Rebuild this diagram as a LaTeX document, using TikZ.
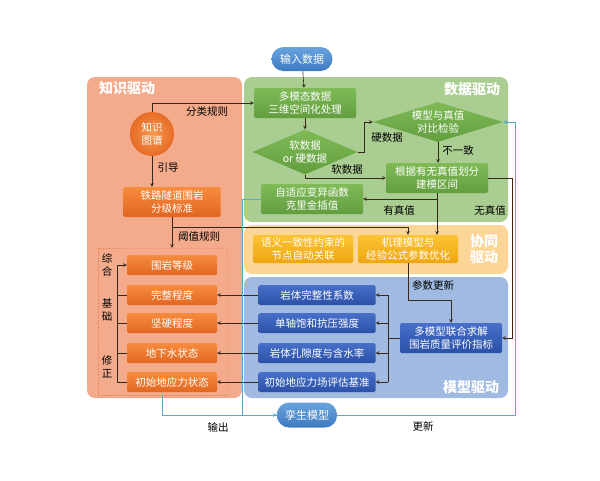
\documentclass[tikz,border=0pt]{standalone}
\usepackage{fontspec}
\setmainfont{Noto Sans CJK SC}
\usetikzlibrary{shapes.geometric,arrows}
\definecolor{zsbg}{RGB}{243,171,140}
\definecolor{sjbg}{RGB}{170,205,145}
\definecolor{xtbg}{RGB}{251,214,150}
\definecolor{mxbg}{RGB}{160,186,226}
\definecolor{lnc}{RGB}{55,40,30}
\definecolor{tealc}{RGB}{90,170,195}
\newcommand{\fs}{\fontsize{10.5}{13}\selectfont}
\tikzset{
  box/.style={rounded corners=1.5pt,text=white,align=center,inner sep=1pt,font=\fs},
  gbox/.style={box,top color={rgb,255:red,128;green,187;blue,88},bottom color={rgb,255:red,98;green,158;blue,62},minimum width=102pt,minimum height=30pt},
  gdia/.style={diamond,text=white,align=center,inner sep=0pt,font=\fs,top color={rgb,255:red,128;green,187;blue,88},bottom color={rgb,255:red,98;green,158;blue,62}},
  obox/.style={box,top color={rgb,255:red,246;green,140;blue,62},bottom color={rgb,255:red,226;green,102;blue,32},minimum width=90pt,minimum height=20pt},
  ybox/.style={box,top color={rgb,255:red,251;green,196;blue,52},bottom color={rgb,255:red,237;green,166;blue,18},minimum width=100pt,minimum height=28pt},
  bbox/.style={box,top color={rgb,255:red,72;green,112;blue,200},bottom color={rgb,255:red,42;green,80;blue,168},minimum width=117pt,minimum height=20pt},
  pill/.style={rounded corners=12pt,text=white,font=\fontsize{11}{13}\selectfont,top color={rgb,255:red,105;green,163;blue,222},bottom color={rgb,255:red,62;green,122;blue,192},minimum width=61pt,minimum height=24pt},
  title/.style={text=white,font=\fontsize{14}{16}\selectfont\bfseries,align=center},
  lab/.style={text=black,font=\fs,align=center,inner sep=0pt},
  line/.style={draw=lnc,line width=0.6pt},
  loop/.style={draw=tealc,line width=0.8pt}
}

\begin{document}
\begin{tikzpicture}[x=1pt,y=-1pt,>=stealth]
\useasboundingbox (0,0) rectangle (600,480);
% the four regions
\fill[zsbg,rounded corners=8pt] (87,77) rectangle (242,398);
\fill[sjbg,rounded corners=8pt] (244,77) rectangle (508,222);
\fill[xtbg,rounded corners=8pt] (244,225) rectangle (508,274);
\fill[mxbg,rounded corners=8pt] (244,277) rectangle (508,398);
\node[title] (tzs) at (127,88) {知识驱动};
\node[title] (tsj) at (472,89) {数据驱动};
\node[title] (txt) at (484,249) {协同\\驱动};
\node[title] (tmx) at (471,387) {模型驱动};

% data driven
\node[pill] (in) at (302,59) {输入数据};
\node[gbox] (mm) at (305,103) {多模态数据\\三维空间化处理};
\node[gdia,aspect=2.3,minimum width=105pt,minimum height=45pt] (sh) at (305,152) {软数据\\or 硬数据};
\node[gdia,aspect=3.2,minimum width=130pt,minimum height=40pt] (cmp) at (438,122) {模型与真值\\对比检验};
\node[gbox] (zone) at (437,178) {根据有无真值划分\\建模区间};
\node[gbox] (krig) at (312,199) {自适应变异函数\\克里金插值};

% knowledge driven
\node[circle,minimum size=44pt,inner sep=0pt,text=white,align=center,font=\fs,inner color={rgb,255:red,247;green,152;blue,80},outer color={rgb,255:red,230;green,108;blue,38}] (kg) at (152,134) {知识\\图谱};
\node[obox,minimum width=97pt,minimum height=30pt] (std) at (172,202) {铁路隧道围岩\\分级标准};
\node[draw={rgb,255:red,228;green,140;blue,100},dash pattern=on 1.5pt off 1.5pt,line width=0.5pt,minimum width=129pt,minimum height=147pt] (dash) at (162.5,321.5) {};
\node[obox] (lv) at (172,265) {围岩等级};
\node[obox] (ig) at (172,295) {完整程度};
\node[obox] (hd) at (172,323) {坚硬程度};
\node[obox] (gw) at (172,353) {地下水状态};
\node[obox] (st) at (172,382) {初始地应力状态};
\node[lab] (zh) at (107,265) {综\\合};
\node[lab] (jc) at (107,310) {基\\础};
\node[lab] (xz) at (107,367) {修\\正};

% synergy
\node[ybox] (sem) at (303,249) {语义一致性约束的\\节点自动关联};
\node[ybox] (opt) at (408,249) {机理模型与\\经验公式参数优化};

% model driven
\node[bbox] (bi) at (317,295) {岩体完整性系数};
\node[bbox] (bu) at (317,323) {单轴饱和抗压强度};
\node[bbox] (bp) at (317,353) {岩体孔隙度与含水率};
\node[bbox] (bs) at (317,382) {初始地应力场评估基准};
\node[bbox,minimum width=102pt,minimum height=30pt] (joint) at (451,338) {多模型联合求解\\围岩质量评价指标};
\node[pill,minimum width=60pt,minimum height=25pt] (twin) at (307,415) {孪生模型};

% connectors
\draw[line,->] (in) -- (mm);
\draw[line,->] (kg.north) |- (mm.west);
\draw[line,->] (mm) -- (sh);
\draw[line,->] (sh.east) -- ++(7,0) |- (cmp.west);
\draw[line,->] (cmp.south) -- (cmp.south |- zone.north);
\draw[line,->] (sh.south) |- (zone.west);
\draw[line,->] (zone.south) |- (krig.east);
\draw[line,->] (zone.south) -- (zone.south |- opt.north);
\draw[line,->] (zone.east) -- ++(24,0) |- (joint.east);
\draw[line,->] (kg.south) -- (kg.south |- std.north);
\draw[line,->] (std.south) -- (std.south |- dash.north);
\draw[line,->] (std.south |- 0,227) -| (opt.north);
\draw[line,->] (opt.south) -- ++(0,37) -| (joint.north);
\coordinate (bus) at (388,0);
\draw[line] (joint.west) -- (joint.west -| bus);
\draw[line] (bus |- bi.east) -- (bus |- bs.east);
\draw[line,->] (bus |- bi.east) -- (bi.east);
\draw[line,->] (bus |- bu.east) -- (bu.east);
\draw[line,->] (bus |- bp.east) -- (bp.east);
\draw[line,->] (bus |- bs.east) -- (bs.east);
\draw[line,->] (bi.west) -- (ig.east);
\draw[line,->] (bu.west) -- (hd.east);
\draw[line,->] (bp.west) -- (gw.east);
\draw[line,->] (bs.west) -- (st.east);
\coordinate (bx) at (117,0);
\draw[line,->] (bx |- st.west) -- (bx |- lv.west) -- (lv.west);
\draw[line] (bx |- ig.west) -- (ig.west);
\draw[line] (bx |- hd.west) -- (hd.west);
\draw[line] (bx |- gw.west) -- (gw.west);
\draw[line] (bx |- st.west) -- (st.west);
% output and update loop
\draw[loop,->] (dash.south) |- (twin.west);
\draw[loop] (krig.west) -- ++(-18,0) |- (twin.west);
\coordinate (upd) at (515,415);
\draw[loop,->] (twin.east) -- (upd) |- (cmp.east);

% labels
\node[lab] (l1) at (207,112) {分类规则};
\node[lab] (l2) at (168,168) {引导};
\node[lab] (l3) at (199,237) {阈值规则};
\node[lab] (l4) at (387,138) {硬数据};
\node[lab] (l5) at (347,170) {软数据};
\node[lab] (l6) at (458,151) {不一致};
\node[lab] (l7) at (399,210) {有真值};
\node[lab] (l8) at (490,210) {无真值};
\node[lab] (l9) at (433,285) {参数更新};
\node[lab] (l10) at (218,427) {输出};
\node[lab] (l11) at (423,426) {更新};
\end{tikzpicture}
\end{document}
